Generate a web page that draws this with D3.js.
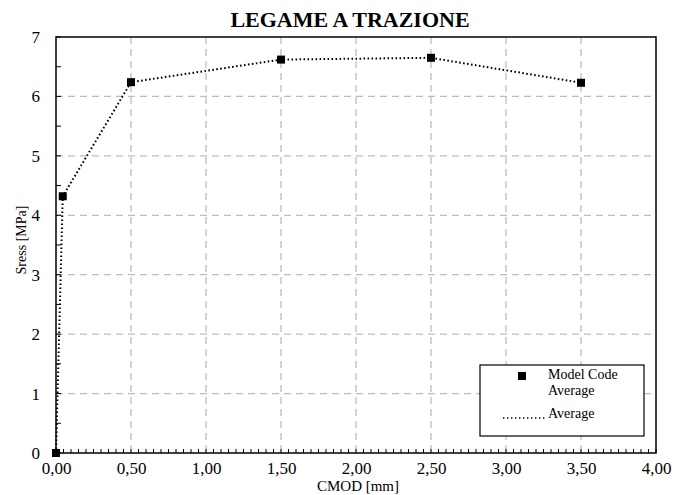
<!DOCTYPE html>
<html><head><meta charset="utf-8">
<script src="https://cdn.jsdelivr.net/npm/d3@7"></script>
<style>body{margin:0;background:#fff}svg{display:block}text{font-family:"Liberation Serif","Times New Roman",serif}</style>
</head><body>
<svg id="c" width="688" height="495"></svg>
<script>
const cmod = [0, 0.045, 0.5, 1.5, 2.5, 3.5];
const stress = [0, 4.32, 6.24, 6.62, 6.65, 6.23];
const xTicks = [0, 0.5, 1, 1.5, 2, 2.5, 3, 3.5, 4];
const yTicks = [0, 1, 2, 3, 4, 5, 6, 7];
const legendLabels = ["Model Code", "Average", "Average"];

const svg = d3.select("#c");
const L = 56, R = 656, T = 37, B = 453;
const x = d3.scaleLinear().domain([0, 4]).range([L, R]);
const y = d3.scaleLinear().domain([0, 7]).range([B, T]);
const fmt = v => d3.format(".2f")(v).replace(".", ",");

// grid
svg.append("g").selectAll("line").data(xTicks.slice(1, -1)).join("line")
  .attr("x1", d => x(d)).attr("x2", d => x(d)).attr("y1", T).attr("y2", B)
  .attr("stroke", "#bdbdbd").attr("stroke-width", 1.3).attr("stroke-dasharray", "7,5");
svg.append("g").selectAll("line").data(yTicks.slice(1, -1)).join("line")
  .attr("y1", d => y(d)).attr("y2", d => y(d)).attr("x1", L).attr("x2", R)
  .attr("stroke", "#bdbdbd").attr("stroke-width", 1.3).attr("stroke-dasharray", "7,5");

// minor ticks
const xMinor = d3.range(0, 81).map(i => i * 0.05);
svg.append("g").selectAll("line").data(xMinor).join("line")
  .attr("x1", d => x(d)).attr("x2", d => x(d)).attr("y1", B).attr("y2", B - 4)
  .attr("stroke", "#000").attr("stroke-width", 1);
const yMinor = d3.range(0, 15).map(i => i * 0.5);
svg.append("g").selectAll("line").data(yMinor).join("line")
  .attr("y1", d => y(d)).attr("y2", d => y(d)).attr("x1", L).attr("x2", L + 5)
  .attr("stroke", "#000").attr("stroke-width", 1);

// frame
svg.append("rect").attr("x", L).attr("y", T).attr("width", R - L).attr("height", B - T)
  .attr("fill", "none").attr("stroke", "#000").attr("stroke-width", 1.5);

// axes labels
const xa = svg.append("g").attr("transform", `translate(0,${B})`)
  .call(d3.axisBottom(x).tickValues(xTicks).tickFormat(fmt).tickSize(0).tickPadding(9));
xa.select(".domain").remove();
xa.selectAll("text").attr("font-size", 17).attr("font-family", "Liberation Serif").attr("fill", "#000");
const ya = svg.append("g").attr("transform", `translate(${L},0)`)
  .call(d3.axisLeft(y).tickValues(yTicks).tickFormat(d3.format("d")).tickSize(0).tickPadding(16));
ya.select(".domain").remove();
ya.selectAll("text").attr("font-size", 17).attr("font-family", "Liberation Serif").attr("fill", "#000");

// line
const pts = cmod.map((c, i) => [c, stress[i]]);
svg.append("path").datum(pts)
  .attr("d", d3.line().x(d => x(d[0])).y(d => y(d[1])))
  .attr("fill", "none").attr("stroke", "#000").attr("stroke-width", 2)
  .attr("stroke-dasharray", "1.6,2.4");
svg.append("g").selectAll("rect").data(pts).join("rect")
  .attr("x", d => x(d[0]) - 4).attr("y", d => y(d[1]) - 4).attr("width", 8).attr("height", 8)
  .attr("fill", "#000");

// title
svg.append("text").attr("x", 350).attr("y", 27).attr("text-anchor", "middle")
  .attr("font-size", 22).attr("font-weight", "bold").text("LEGAME A TRAZIONE");
svg.append("text").attr("x", 358).attr("y", 491).attr("text-anchor", "middle")
  .attr("font-size", 15).text("CMOD [mm]");
svg.append("text").attr("transform", "translate(26,240) rotate(-90)").attr("text-anchor", "middle")
  .attr("font-size", 14).text("Sress [MPa]");

// legend
const lg = svg.append("g");
lg.append("rect").attr("x", 480).attr("y", 365).attr("width", 164).attr("height", 71)
  .attr("fill", "#fff").attr("stroke", "#000").attr("stroke-width", 1.2);
lg.append("rect").attr("x", 518).attr("y", 372).attr("width", 8).attr("height", 8).attr("fill", "#000");
lg.append("line").attr("x1", 503).attr("x2", 545).attr("y1", 418).attr("y2", 418)
  .attr("stroke", "#000").attr("stroke-width", 1.6).attr("stroke-dasharray", "1.4,2.6");
lg.selectAll("text").data(legendLabels).join("text")
  .attr("x", 548).attr("y", (d, i) => [379, 395, 418][i]).attr("font-size", 14).text(d => d);
</script>
</body></html>
